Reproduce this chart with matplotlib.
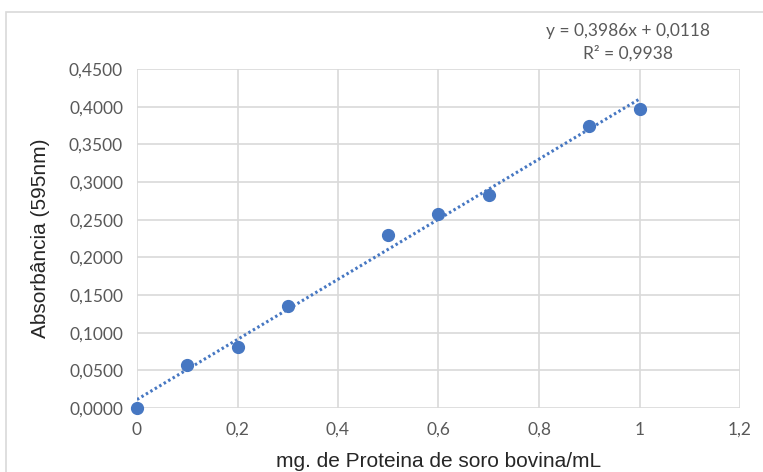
import matplotlib
matplotlib.use("Agg")
import matplotlib.pyplot as plt
import numpy as np
from matplotlib.patches import Rectangle

BLUE = "#4677C2"
GRID = "#D9D9D9"
TICK = "#595959"

conc = [0.0, 0.1, 0.2, 0.3, 0.5, 0.6, 0.7, 0.9, 1.0]
absorb = [0.0, 0.0566, 0.081, 0.136, 0.230, 0.258, 0.283, 0.375, 0.397]
x_ticks = [0, 0.2, 0.4, 0.6, 0.8, 1.0, 1.2]
x_labels = ["0", "0,2", "0,4", "0,6", "0,8", "1", "1,2"]
y_ticks = [0.0, 0.05, 0.10, 0.15, 0.20, 0.25, 0.30, 0.35, 0.40, 0.45]
y_labels = ["0,0000", "0,0500", "0,1000", "0,1500", "0,2000",
            "0,2500", "0,3000", "0,3500", "0,4000", "0,4500"]
eq_text = "y = 0,3986x + 0,0118\nR² = 0,9938"

W, H = 763, 472
fig = plt.figure(figsize=(W / 100, H / 100), dpi=100)
fig.patches.append(Rectangle((6 / W, -0.1), 1.2, (H - 12) / H + 0.1,
                             transform=fig.transFigure, fill=False,
                             edgecolor=GRID, linewidth=1.2))

ax = fig.add_axes([137 / W, (H - 408) / H, (740 - 137) / W, (408 - 69) / H])
ax.set_xlim(0, 1.2)
ax.set_ylim(0, 0.45)
ax.set_xticks(x_ticks)
ax.set_xticklabels(x_labels)
ax.set_yticks(y_ticks)
ax.set_yticklabels(y_labels)
ax.grid(True, color=GRID, linewidth=1.2)
ax.set_axisbelow(True)
for s in ax.spines.values():
    s.set_visible(False)
ax.tick_params(length=0, colors=TICK, labelsize=12.5, pad=10)
for lab in ax.get_xticklabels() + ax.get_yticklabels():
    lab.set_family("Lato")

# linear trendline from the data
z = np.polyfit(conc, absorb, 1)
xl = np.array([min(conc), max(conc)])
ax.plot(xl, np.polyval(z, xl), color=BLUE, linestyle=(0, (0.8, 0.9)), linewidth=2.2)
ax.plot(conc, absorb, "o", color=BLUE, markersize=8.5, clip_on=False, zorder=3)

ax.set_xlabel("mg. de Proteina de soro bovina/mL", fontsize=15, family="Liberation Sans",
              color="#262626", labelpad=10)
ax.set_ylabel("Absorbância (595nm)", fontsize=15, family="Liberation Sans",
              color="#262626", labelpad=14)

fig.text(628 / W, 1 - 42 / H, eq_text, ha="center", va="center", fontsize=12.5,
         family="Lato", color=TICK, linespacing=1.45)

fig.savefig("out.png", dpi=100)
